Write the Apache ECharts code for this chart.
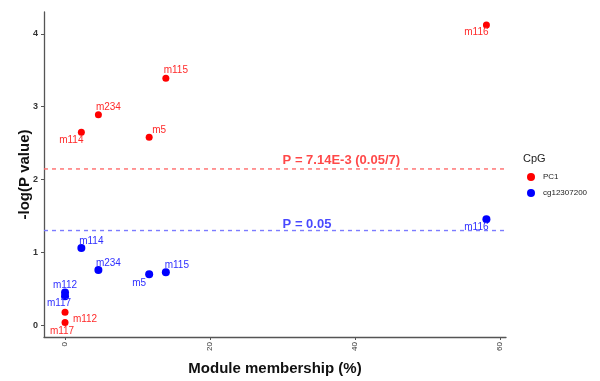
<!DOCTYPE html>
<html>
<head>
<meta charset="utf-8">
<script src="https://cdn.jsdelivr.net/npm/echarts@6/dist/echarts.min.js"></script>
<style>
  html, body { margin: 0; padding: 0; background: #fff; }
  #chart { width: 600px; height: 381px; }
</style>
</head>
<body>
<div id="chart"></div>
<script>
// Module labels and membership (%) for each point
const modules = ['m116', 'm115', 'm234', 'm114', 'm5', 'm112', 'm117'];
const membership = [58.1, 13.9, 4.6, 2.25, 11.6, 0, 0];

// -log10(P) per CpG
const pc1Values = [4.12, 3.39, 2.89, 2.65, 2.58, 0.18, 0.04];
const cgValues = [1.455, 0.73, 0.76, 1.06, 0.70, 0.45, 0.40];

// Significance thresholds
const bonferroniP = 0.05 / 7;
const nominalP = 0.05;
const thresholdLabels = ['P = 7.14E-3 (0.05/7)', 'P = 0.05'];

// Axis ticks
const xTicks = [0, 20, 40, 60];
const yTicks = [0, 1, 2, 3, 4];

// Label offsets (px) relative to each point, per series
const pc1LabelOffsets = [[-10, 7], [10, -8], [10, -7], [-10, 8], [10, -7], [20, 7], [-3, 9]];
const cgLabelOffsets = [[-10, 8], [11, -7], [10, -7], [10, -7], [-10, 9], [0, -7], [-6, 7]];

const FONT = 'Liberation Sans, Arial, sans-serif';
const XMIN = -2.9, XMAX = 60.8;

function pointData(values, offsets, color) {
  return modules.map((m, i) => ({
    name: m,
    value: [membership[i], values[i]],
    label: {
      show: true,
      formatter: m,
      position: 'inside',
      offset: offsets[i],
      color: color,
      fontSize: 10,
      fontFamily: FONT
    }
  }));
}

function thresholdLine(y, color) {
  return {
    type: 'line',
    data: [[XMIN, y], [XMAX, y]],
    symbol: 'none',
    silent: true,
    lineStyle: { color: color, width: 1.4, type: [4, 4] },
    z: 1
  };
}

function thresholdText(y, text, color, dy) {
  return {
    type: 'scatter',
    data: [[30, y]],
    symbolSize: 0,
    silent: true,
    label: {
      show: true,
      formatter: text,
      position: 'right',
      distance: 0,
      offset: [0, dy],
      color: color,
      fontSize: 13,
      fontWeight: 'bold',
      fontFamily: FONT
    },
    z: 3
  };
}

const chart = echarts.init(document.getElementById('chart'));
chart.setOption({
  backgroundColor: '#fff',
  animation: false,
  grid: { left: 44, right: 94, top: 12, bottom: 37 },
  title: {
    text: 'CpG',
    left: 523,
    top: 153,
    padding: 0,
    textStyle: { fontSize: 11, fontWeight: 'normal', color: '#222', fontFamily: FONT }
  },
  legend: {
    data: ['PC1', 'cg12307200'],
    orient: 'vertical',
    left: 527,
    top: 173,
    padding: 0,
    icon: 'circle',
    itemWidth: 8,
    itemHeight: 8,
    itemGap: 8,
    textStyle: { fontSize: 8, color: '#222', fontFamily: FONT, padding: [0, 0, 0, 3] }
  },
  xAxis: {
    type: 'value',
    min: XMIN,
    max: XMAX,
    name: 'Module membership (%)',
    nameLocation: 'middle',
    nameGap: 24,
    nameMoveOverlap: false,
    nameTextStyle: { fontSize: 15, fontWeight: 'bold', color: '#111', fontFamily: FONT },
    splitLine: { show: false },
    axisLine: { onZero: false, lineStyle: { color: '#555', width: 1.3 } },
    axisTick: { show: true, length: 3, customValues: xTicks, lineStyle: { color: '#555' } },
    axisLabel: {
      customValues: xTicks,
      rotate: 90,
      margin: 5,
      fontSize: 8,
      color: '#333',
      fontFamily: FONT
    }
  },
  yAxis: {
    type: 'value',
    min: -0.16,
    max: 4.3,
    name: '-log(P value)',
    nameLocation: 'middle',
    nameGap: 12,
    nameMoveOverlap: false,
    nameTextStyle: { fontSize: 15, fontWeight: 'bold', color: '#111', fontFamily: FONT },
    splitLine: { show: false },
    axisLine: { show: true, onZero: false, lineStyle: { color: '#555', width: 1.3 } },
    axisTick: { show: true, length: 3, customValues: yTicks, lineStyle: { color: '#555' } },
    axisLabel: {
      customValues: yTicks,
      margin: 6,
      fontSize: 9,
      fontWeight: 'bold',
      color: '#333',
      fontFamily: FONT
    }
  },
  series: [
    thresholdLine(-Math.log10(bonferroniP), '#ff6b6b'),
    thresholdLine(-Math.log10(nominalP), '#7b7bff'),
    {
      name: 'PC1',
      type: 'scatter',
      symbolSize: 7,
      itemStyle: { color: '#ff0000', opacity: 1 },
      data: pointData(pc1Values, pc1LabelOffsets, '#ff2a2a'),
      z: 4
    },
    {
      name: 'cg12307200',
      type: 'scatter',
      symbolSize: 8,
      itemStyle: { color: '#0000ff', opacity: 1 },
      data: pointData(cgValues, cgLabelOffsets, '#3030ff'),
      z: 4
    },
    thresholdText(-Math.log10(bonferroniP), thresholdLabels[0], '#ff1a1a', -9),
    thresholdText(-Math.log10(nominalP), thresholdLabels[1], '#1a1aff', -6)
  ]
});
</script>
</body>
</html>
